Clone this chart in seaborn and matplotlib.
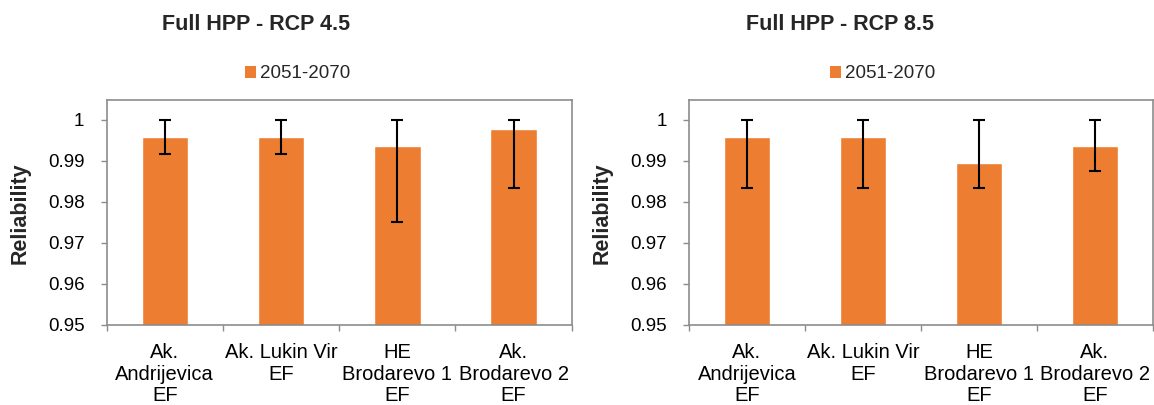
import matplotlib
matplotlib.use('Agg')
import matplotlib.pyplot as plt
import numpy as np
import pandas as pd
import seaborn as sns
from matplotlib.patches import Patch
from matplotlib.ticker import FixedLocator, FuncFormatter

sns.set_theme(style='white')
plt.rcParams['font.family'] = ['Liberation Sans', 'DejaVu Sans']

# data
stations = ['Ak.\nAndrijevica\nEF', 'Ak. Lukin Vir\nEF', 'HE\nBrodarevo 1\nEF', 'Ak.\nBrodarevo 2\nEF']
period = '2051-2070'

rcp45_mean = [0.9958, 0.9958, 0.9937, 0.9978]
rcp45_low = [0.9916, 0.9916, 0.9750, 0.9833]
rcp45_high = [1.0, 1.0, 1.0, 1.0]

rcp85_mean = [0.9958, 0.9958, 0.9895, 0.9937]
rcp85_low = [0.9833, 0.9833, 0.9833, 0.9875]
rcp85_high = [1.0, 1.0, 1.0, 1.0]

yticks = [0.95, 0.96, 0.97, 0.98, 0.99, 1.0]

bar_color = '#ED7D31'
axis_grey = '#8C8C8C'

W, H = 1154, 405
fig = plt.figure(figsize=(W / 100, H / 100), dpi=100)


def draw_panel(left_px, right_px, title, title_x, legend_x, mean, low, high):
    ax = fig.add_axes([left_px / W, 1 - 325 / H, (right_px - left_px) / W, 225 / H])
    df = pd.DataFrame({'station': stations, 'value': mean})
    sns.barplot(data=df, x='station', y='value', color=bar_color, width=0.4,
                saturation=1, errorbar=None, ax=ax)
    mean_a = np.array(mean)
    yerr = [mean_a - np.array(low), np.array(high) - mean_a]
    ax.errorbar(np.arange(len(stations)), mean_a, yerr=yerr, fmt='none',
                ecolor='black', elinewidth=1.5, capsize=4.5, capthick=1.5)

    ax.set_xlim(-0.5, len(stations) - 0.5)
    ax.set_ylim(0.95, 1.0048)
    ax.yaxis.set_major_locator(FixedLocator(yticks))
    ax.yaxis.set_major_formatter(FuncFormatter(lambda v, p: ('%.2f' % v).rstrip('0').rstrip('.')))

    # category boundary ticks, labels centred on the bars
    ax.set_xticks(np.arange(-0.5, len(stations)), minor=False)
    ax.set_xticklabels([])
    ax.set_xticks(np.arange(len(stations)), minor=True)
    ax.set_xticklabels(stations, minor=True, fontsize=14.5, linespacing=1.17)
    ax.tick_params(axis='x', which='major', length=4, width=1, color=axis_grey, direction='out', bottom=True)
    ax.tick_params(axis='x', which='minor', length=0, pad=13, labelcolor='black')
    ax.tick_params(axis='y', length=4, width=1, color=axis_grey, direction='out', left=True,
                   labelsize=13.5, pad=12, labelcolor='black')
    ax.set_xlabel('')
    ax.set_ylabel('')
    for s in ax.spines.values():
        s.set_color(axis_grey)
        s.set_linewidth(1.2)
        s.set_visible(True)

    fig.text(title_x / W, 1 - 30 / H, title, ha='center', va='baseline',
             fontsize=15.5, fontweight='bold')
    fig.text((left_px - 87) / W, 1 - 213 / H, 'Reliability', rotation=90,
             ha='center', va='center', fontsize=15.5, fontweight='bold')
    fig.legend(handles=[Patch(facecolor=bar_color, edgecolor='none', label=period)],
               loc='center', bbox_to_anchor=(legend_x / W, 1 - 74 / H), frameon=False,
               fontsize=13.5, handlelength=0.55, handleheight=0.55, handletextpad=0.25,
               borderpad=0, borderaxespad=0)
    return ax


draw_panel(106.7, 571.7, 'Full HPP - RCP 4.5', 256, 298, rcp45_mean, rcp45_low, rcp45_high)
draw_panel(689, 1153, 'Full HPP - RCP 8.5', 840, 883, rcp85_mean, rcp85_low, rcp85_high)

fig.savefig('out.png', dpi=100, facecolor='white')
